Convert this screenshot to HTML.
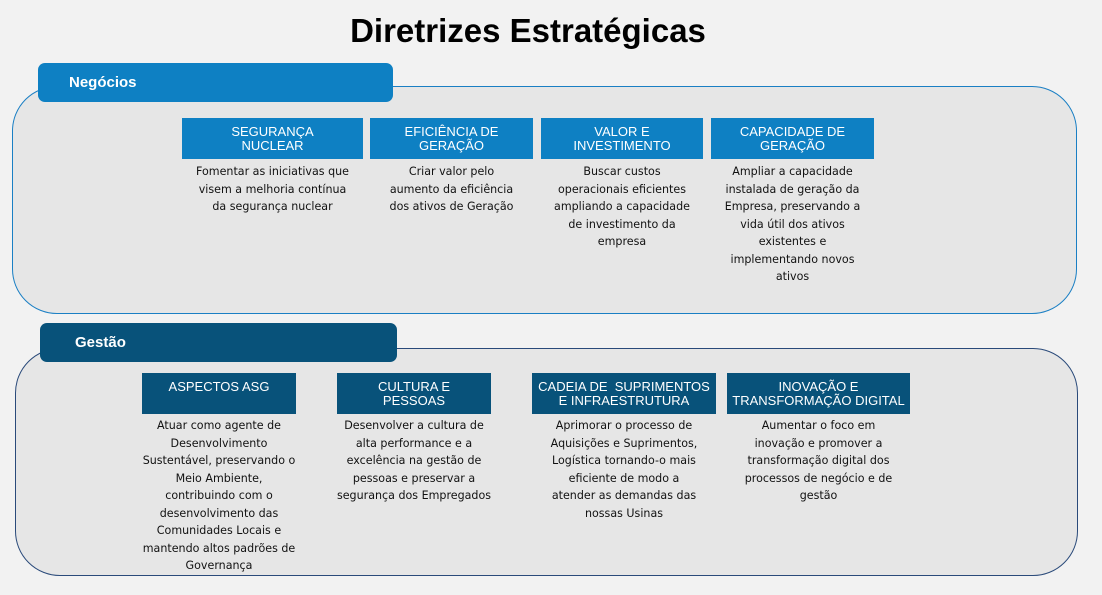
<!DOCTYPE html>
<html><head><meta charset="utf-8"><style>
body{margin:0;width:1102px;height:595px;background:#f2f2f2;font-family:"Liberation Sans",sans-serif;position:relative;overflow:hidden}
.a{position:absolute;box-sizing:border-box}
.outer{background:#e6e6e6;border-radius:45px}
.hdr{border-radius:7px;color:#fff;font-weight:bold;font-size:15px;line-height:39px}
.box{color:#fff;font-size:13px;text-align:center;line-height:14px;padding-top:7px}
.t{font-family:"DejaVu Sans",sans-serif;font-size:11.1px;line-height:17.5px;text-align:center;color:#111;white-space:nowrap}
</style></head><body>
<div class="a" style="left:0;top:12px;width:1056px;text-align:center;font-weight:bold;font-size:33px;color:#000">Diretrizes Estratégicas</div>

<div class="a outer" style="left:12px;top:86px;width:1065px;height:228px;border:1.3px solid #1a7fc4"></div>
<div class="a hdr" style="left:38px;top:63px;width:355px;height:39px;background:#0e80c3;padding-left:31px">Negócios</div>
<div class="a box" style="left:182px;top:118px;width:181px;height:41px;background:#0e80c3">SEGURANÇA<br>NUCLEAR</div>
<div class="a box" style="left:370px;top:118px;width:163px;height:41px;background:#0e80c3">EFICIÊNCIA DE<br>GERAÇÃO</div>
<div class="a box" style="left:541px;top:118px;width:162px;height:41px;background:#0e80c3">VALOR E<br>INVESTIMENTO</div>
<div class="a box" style="left:711px;top:118px;width:163px;height:41px;background:#0e80c3">CAPACIDADE DE<br>GERAÇÃO</div>
<div class="a t" style="left:182px;top:163px;width:181px">Fomentar as iniciativas que<br>visem a melhoria contínua<br>da segurança nuclear</div>
<div class="a t" style="left:370px;top:163px;width:163px">Criar valor pelo<br>aumento da eficiência<br>dos ativos de Geração</div>
<div class="a t" style="left:541px;top:163px;width:162px">Buscar custos<br>operacionais eficientes<br>ampliando a capacidade<br>de investimento da<br>empresa</div>
<div class="a t" style="left:711px;top:163px;width:163px">Ampliar a capacidade<br>instalada de geração da<br>Empresa, preservando a<br>vida útil dos ativos<br>existentes e<br>implementando novos<br>ativos</div>

<div class="a outer" style="left:15px;top:348px;width:1063px;height:228px;border:1.3px solid #2a4a7a"></div>
<div class="a hdr" style="left:40px;top:323px;width:357px;height:39px;background:#08527a;padding-left:35px">Gestão</div>
<div class="a box" style="left:142px;top:373px;width:154px;height:41px;background:#08527a">ASPECTOS ASG</div>
<div class="a box" style="left:337px;top:373px;width:154px;height:41px;background:#08527a">CULTURA E<br>PESSOAS</div>
<div class="a box" style="left:532px;top:373px;width:184px;height:41px;background:#08527a">CADEIA DE &nbsp;SUPRIMENTOS<br>E INFRAESTRUTURA</div>
<div class="a box" style="left:727px;top:373px;width:183px;height:41px;background:#08527a">INOVAÇÃO E<br>TRANSFORMAÇÃO DIGITAL</div>
<div class="a t" style="left:134px;top:417px;width:170px">Atuar como agente de<br>Desenvolvimento<br>Sustentável, preservando o<br>Meio Ambiente,<br>contribuindo com o<br>desenvolvimento das<br>Comunidades Locais e<br>mantendo altos padrões de<br>Governança</div>
<div class="a t" style="left:329px;top:417px;width:170px">Desenvolver a cultura de<br>alta performance e a<br>excelência na gestão de<br>pessoas e preservar a<br>segurança dos Empregados</div>
<div class="a t" style="left:524px;top:417px;width:200px">Aprimorar o processo de<br>Aquisições e Suprimentos,<br>Logística tornando-o mais<br>eficiente de modo a<br>atender as demandas das<br>nossas Usinas</div>
<div class="a t" style="left:727px;top:417px;width:183px">Aumentar o foco em<br>inovação e promover a<br>transformação digital dos<br>processos de negócio e de<br>gestão</div>
</body></html>
